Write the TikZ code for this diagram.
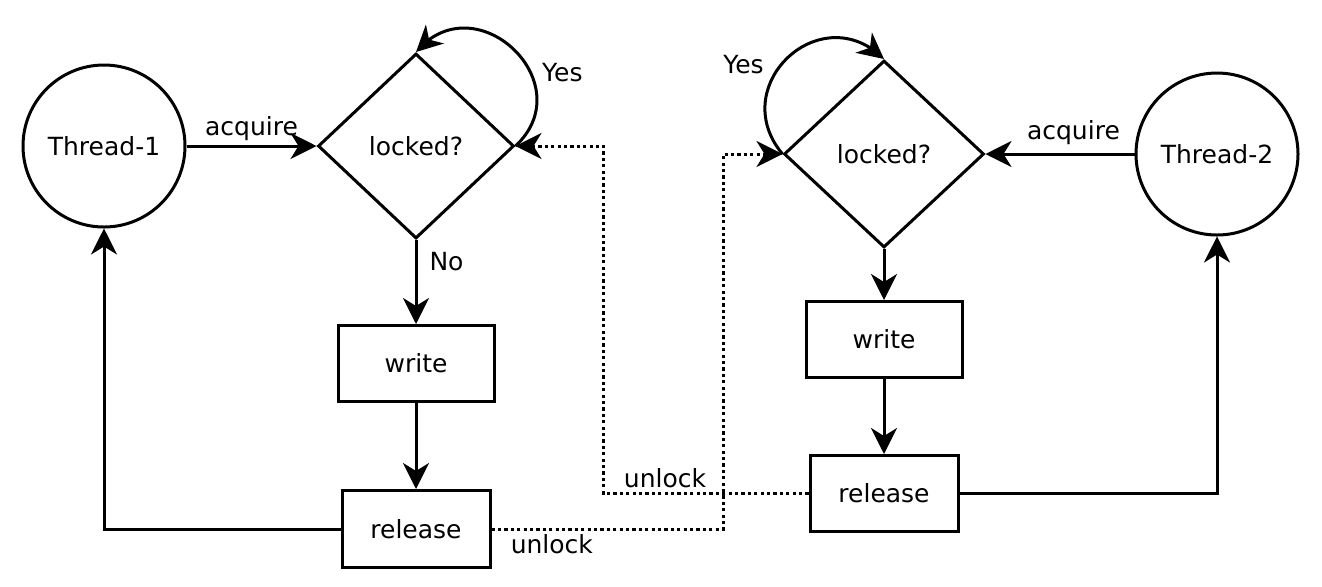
\documentclass[tikz,border=0pt]{standalone}
\usepackage{fontspec}
\setmainfont{DejaVu Sans}
\usepackage{tikz}
\usetikzlibrary{positioning,arrows.meta,bending,shapes.geometric}

\begin{document}
\begin{tikzpicture}[
  x = 0.5pt, y = 0.5pt,
  every node/.style = {font=\fontsize{12.5pt}{15pt}\selectfont},
  thread/.style = {draw, circle, line width=1.5pt, minimum size=81pt, inner sep=0pt},
  cond/.style = {draw, diamond, line width=1.5pt, minimum width=98pt,
                 minimum height=92.5pt, inner sep=0pt},
  proc/.style = {draw, rectangle, line width=1.5pt, minimum width=78pt,
                 minimum height=38pt},
  arr/.style = {-{Stealth[length=13pt, width=13pt, inset=4pt]}, line width=1.5pt},
  dotarr/.style = {arr, dash pattern=on 1.6pt off 1.6pt},
  lbl/.style = {inner sep=2pt}
]
  \useasboundingbox (0,0) rectangle (1322,-586);

  % left thread
  \node[thread] (t1) at (104,-146) {Thread-1};
  \node[cond, right=65pt of t1] (lk1) {locked?};
  \node[proc, below=42pt of lk1] (w1) {write};
  \node[proc, minimum width=74pt, minimum height=38.5pt, below=43pt of w1] (r1) {release};

  % right thread
  \node[cond, minimum width=100pt, minimum height=93.5pt] (lk2) at (884,-154) {locked?};
  \node[thread, right=74.5pt of lk2] (t2) {Thread-2};
  \node[proc, below=25.5pt of lk2] (w2) {write};
  \node[proc, minimum width=74pt, below=37.5pt of w2] (r2) {release};

  \coordinate[right=44pt of lk1.east] (bend1);
  \coordinate[left=29.5pt of lk2.west] (bend2);

  \draw[arr] (t1) -- node[lbl, above]{acquire} (lk1);
  \draw[arr] (lk1.east) to[out=43, in=50, looseness=1.72]
    node[lbl, pos=0.36, right=3pt]{Yes} (lk1.north);
  \draw[arr] (lk1.south) -- node[lbl, pos=0.26, right=4pt]{No} (w1.north);
  \draw[arr] (w1) -- (r1);
  \draw[arr] (r1.west) -| (t1.south);

  \draw[arr] (t2) -- node[lbl, above=2pt, pos=0.41]{acquire} (lk2);
  \draw[arr] (lk2.west) to[out=130, in=135, looseness=1.64]
    node[lbl, pos=0.45, left=6pt]{Yes} (lk2.north);
  \draw[arr] (lk2) -- (w2);
  \draw[arr] (w2) -- (r2);
  \draw[arr] (r2.east) -| (t2.south);

  % unlock signals
  \draw[dotarr] (r2.west) -| node[lbl, above, pos=0.35]{unlock} (bend1) -- (lk1.east);
  \draw[dotarr] (r1.east) -| node[lbl, below, pos=0.13]{unlock} (bend2) -- (lk2.west);
\end{tikzpicture}
\end{document}
